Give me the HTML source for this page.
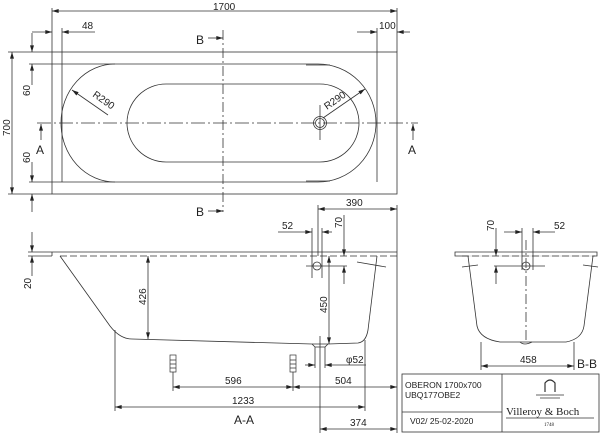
<!DOCTYPE html>
<html><head><meta charset="utf-8"><style>
html,body{margin:0;padding:0;background:#fff}
svg{display:block}
text{font-family:"Liberation Sans",sans-serif;fill:#222}
.d{font-size:10px;font-stretch:condensed}
</style></head><body>
<svg width="600" height="433" viewBox="0 0 600 433" xmlns="http://www.w3.org/2000/svg">
<defs>
<marker id="a" viewBox="0 0 10 6" refX="10" refY="3" markerWidth="7" markerHeight="4" orient="auto-start-reverse" markerUnits="userSpaceOnUse"><path d="M0,0L10,3L0,6z" fill="#222"/></marker>
</defs>
<g stroke="#333" stroke-width="0.8" fill="none">
<!-- TOP VIEW -->
<rect x="52" y="52" width="345" height="142"/>
<path d="M115,64 L318,64 A58,59 0 0 1 318,182 L115,182 A54,59 0 0 1 115,64Z"/>
<path d="M166,84 L320,84 A39,39 0 0 1 320,162 L166,162 A39,39 0 0 1 166,84Z"/>
<circle cx="320" cy="123" r="6.5"/><circle cx="320" cy="123" r="4.5"/>
<line x1="320" y1="105" x2="320" y2="140"/>
<path d="M37,123H418" stroke-dasharray="14,3,2,3"/>
<path d="M223,30V212" stroke-dasharray="10,3,2,3"/>
<!-- dims -->
<line x1="52" y1="8" x2="52" y2="52"/><line x1="397" y1="8" x2="397" y2="52"/>
<line x1="52" y1="11" x2="397" y2="11" marker-start="url(#a)" marker-end="url(#a)"/>
<line x1="62" y1="28" x2="62" y2="182"/>
<line x1="32" y1="32" x2="52" y2="32" marker-end="url(#a)"/><line x1="95" y1="32" x2="62" y2="32" marker-end="url(#a)"/>
<line x1="377" y1="28" x2="377" y2="182"/>
<line x1="357" y1="32" x2="377" y2="32" marker-end="url(#a)"/><line x1="410" y1="32" x2="397" y2="32" marker-end="url(#a)"/>
<line x1="8" y1="52" x2="52" y2="52"/><line x1="8" y1="194" x2="52" y2="194"/>
<line x1="12" y1="52" x2="12" y2="194" marker-start="url(#a)" marker-end="url(#a)"/>
<line x1="29" y1="64" x2="115" y2="64"/><line x1="29" y1="182" x2="115" y2="182"/>
<line x1="32" y1="33" x2="32" y2="52" marker-end="url(#a)"/><line x1="32" y1="85" x2="32" y2="64" marker-end="url(#a)"/>
<line x1="32" y1="162" x2="32" y2="182" marker-end="url(#a)"/><line x1="32" y1="212" x2="32" y2="194" marker-end="url(#a)"/>
<line x1="108" y1="115" x2="72" y2="90" marker-end="url(#a)"/>
<line x1="323" y1="118" x2="365" y2="89" marker-end="url(#a)"/>
<line x1="41" y1="140" x2="41" y2="124" marker-end="url(#a)"/><line x1="413" y1="140" x2="413" y2="124" marker-end="url(#a)"/>
<line x1="208" y1="38" x2="223" y2="38" marker-end="url(#a)"/><line x1="208" y1="211" x2="223" y2="211" marker-end="url(#a)"/>
<line x1="306" y1="65" x2="330" y2="65"/><line x1="306" y1="181" x2="330" y2="181"/>
<!-- SECTION A-A -->
<path d="M28,252H397M28,256H52"/>
<path d="M60,256H397" stroke-dasharray="7,3"/>
<path d="M52,252V256"/>
<path d="M60,256L110,326Q120,339 132,339L312,344L328,344L358,343Q366,342 368,330L377,256"/>
<path d="M312,344L315,347V368M325,347L328,344M325,347V368M315,347H325"/>
<line x1="357" y1="262" x2="386" y2="267"/>
<line x1="32" y1="232" x2="32" y2="252" marker-end="url(#a)"/><line x1="32" y1="276" x2="32" y2="256" marker-end="url(#a)"/>
<line x1="148" y1="256" x2="148" y2="339" marker-start="url(#a)" marker-end="url(#a)"/>
<line x1="329" y1="256" x2="329" y2="344" marker-start="url(#a)" marker-end="url(#a)"/>
<line x1="318" y1="205" x2="318" y2="256"/><line x1="397" y1="205" x2="397" y2="433"/>
<line x1="318" y1="209" x2="397" y2="209" marker-start="url(#a)" marker-end="url(#a)"/>
<line x1="312" y1="228" x2="312" y2="278"/><line x1="322" y1="228" x2="322" y2="278"/>
<line x1="278" y1="232" x2="312" y2="232" marker-end="url(#a)"/><line x1="332" y1="232" x2="322" y2="232" marker-end="url(#a)"/>
<circle cx="317" cy="266" r="4"/><line x1="306" y1="266" x2="347" y2="266"/>
<line x1="344" y1="215" x2="344" y2="256" marker-end="url(#a)"/><line x1="344" y1="284" x2="344" y2="266" marker-end="url(#a)"/>
<g stroke-width="0.7"><rect x="170" y="355" width="6" height="17"/><path d="M170,360H176M170,364H176M170,368H176"/>
<rect x="290" y="355" width="6" height="17"/><path d="M290,360H296M290,364H296M290,368H296"/></g>
<line x1="173" y1="372" x2="173" y2="391"/><line x1="293" y1="372" x2="293" y2="391"/>
<line x1="173" y1="387" x2="293" y2="387" marker-start="url(#a)" marker-end="url(#a)"/>
<line x1="293" y1="387" x2="397" y2="387" marker-start="url(#a)" marker-end="url(#a)"/>
<line x1="115" y1="330" x2="115" y2="411"/><line x1="365" y1="340" x2="365" y2="411"/>
<line x1="115" y1="407" x2="365" y2="407" marker-start="url(#a)" marker-end="url(#a)"/>
<line x1="320" y1="336" x2="320" y2="433"/>
<line x1="320" y1="429" x2="397" y2="429" marker-start="url(#a)" marker-end="url(#a)"/>
<line x1="305" y1="365" x2="315" y2="365" marker-end="url(#a)"/><line x1="366" y1="365" x2="325" y2="365" marker-end="url(#a)"/>
<!-- SECTION B-B -->
<path d="M455,252H597V256H455Z"/>
<path d="M468,256H593" stroke="#fff"/>
<path d="M462,256H595" stroke-dasharray="7,3"/>
<path d="M468,256L477,326Q480,339 500,342L566,342Q582,339 584,326L593,256"/>
<path d="M520,342Q524,346 532,342"/>
<line x1="462" y1="267" x2="478" y2="265"/><line x1="583" y1="265" x2="598" y2="267"/>
<path d="M526,240V342" stroke-dasharray="10,3,2,3"/>
<circle cx="526" cy="266" r="4"/><line x1="494" y1="266" x2="545" y2="266"/>
<line x1="522" y1="228" x2="522" y2="270"/><line x1="533" y1="228" x2="533" y2="270"/>
<line x1="504" y1="232" x2="522" y2="232" marker-end="url(#a)"/><line x1="555" y1="232" x2="533" y2="232" marker-end="url(#a)"/>
<line x1="496" y1="228" x2="496" y2="256" marker-end="url(#a)"/><line x1="496" y1="284" x2="496" y2="266" marker-end="url(#a)"/>
<line x1="481" y1="342" x2="481" y2="370"/><line x1="574" y1="342" x2="574" y2="370"/>
<line x1="481" y1="366" x2="574" y2="366" marker-start="url(#a)" marker-end="url(#a)"/>
<!-- title block -->
<rect x="402" y="374" width="197" height="58"/>
<line x1="502" y1="374" x2="502" y2="432"/><line x1="402" y1="412" x2="502" y2="412"/>
<path d="M545,392V383Q550,377 555,383V392" stroke-width="1.2"/>
<line x1="536" y1="395" x2="564" y2="395"/><line x1="540" y1="398" x2="560" y2="398"/>
<line x1="506" y1="418" x2="594" y2="418"/>
</g>
<g class="d">
<text x="213" y="10">1700</text>
<text x="82" y="29">48</text>
<text x="379" y="29">100</text>
<text x="196" y="44" font-size="12">B</text><text x="196" y="216" font-size="12">B</text>
<text x="36" y="154" font-size="12">A</text><text x="408" y="154" font-size="12">A</text>
<text transform="translate(10,136) rotate(-90)">700</text>
<text transform="translate(30,96) rotate(-90)">60</text>
<text transform="translate(30,163) rotate(-90)">60</text>
<text transform="translate(92,96) rotate(35)">R290</text>
<text transform="translate(327,110) rotate(-35)">R290</text>
<text x="346" y="206">390</text>
<text x="282" y="229">52</text>
<text transform="translate(342,228) rotate(-90)">70</text>
<text transform="translate(31,289) rotate(-90)">20</text>
<text transform="translate(146,305) rotate(-90)">426</text>
<text transform="translate(327,313) rotate(-90)">450</text>
<text x="346" y="363">φ52</text>
<text x="225" y="384">596</text>
<text x="335" y="384">504</text>
<text x="232" y="404">1233</text>
<text x="234" y="424" font-size="12">A-A</text>
<text x="350" y="426">374</text>
<text transform="translate(494,231) rotate(-90)">70</text>
<text x="554" y="229">52</text>
<text x="520" y="363">458</text>
<text x="577" y="368" font-size="12">B-B</text>
</g>
<text x="405" y="388" font-size="8.5">OBERON 1700x700</text>
<text x="405" y="398" font-size="8.5">UBQ177OBE2</text>
<text x="410" y="424" font-size="8.5">V02/ 25-02-2020</text>
<text x="506" y="415" font-size="11" style="font-family:'Liberation Serif',serif">Villeroy &amp; Boch</text>
<text x="544" y="426" font-size="5" style="font-family:'Liberation Serif',serif">1748</text>
</svg>
</body></html>
